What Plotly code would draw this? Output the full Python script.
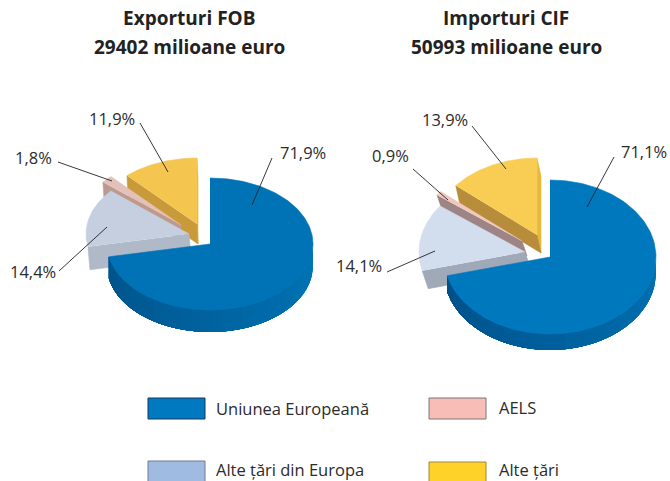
import numpy as np
import plotly.graph_objects as go

# --- data ---
categories = ["Uniunea Europeană", "AELS", "Alte țări din Europa", "Alte țări"]
export_values = [71.9, 1.8, 14.4, 11.9]
import_values = [71.1, 0.9, 14.1, 13.9]
titles = [["Exporturi FOB", "29402 milioane euro"], ["Importuri CIF", "50993 milioane euro"]]

# --- layout / style configuration (pixels of the 670x481 canvas) ---
W, H = 670, 481
FONT = "Open Sans"
TEXT = "#2b2b2b"
pies = [
    dict(values=export_values, c=(210, 244), r=(103, 66), rim_depth=22,
         offsets={1: (-29, -19), 2: (-21, -10), 3: (-13, -20)},
         depths={1: (1, 15), 2: (2, 23), 3: (1, 20)},
         top=["#0073b6", "#e4c1b8", "#c5cfe0", "#f4c650"],
         face=[None, "#bd9a90", "#afb9c8", "#c99a3a"], sliver="#e3b648",
         rim=("#00538a", "#0076b8"),
         labels=[(278, 152, 272, 158, 252, 205, "left"), (54, 157, 58, 162, 112, 181, "right"),
                 (8, 271, 59, 271, 107, 227, "left"), (112, 118, 140, 123, 168, 172, "center")],
         ),
    dict(values=import_values, c=(550, 257), r=(106, 77), rim_depth=16,
         offsets={1: (-28, -16), 2: (-25, -5), 3: (-13, -22)},
         depths={1: (5, 15), 2: (6, 18), 3: (4, 18)},
         top=["#0078be", "#f0c8bd", "#d2ddee", "#f9cc53"],
         face=[None, "#9e8585", "#a0a9b8", "#b78c3a"], sliver="#e8b83e",
         rim=("#00508a", "#0072b2"),
         labels=[(644, 151, 614, 157, 587, 207, "center"), (390, 155, 413, 169, 448, 200, "center"),
                 (359, 265, 387, 272, 435, 251, "center"), (445, 119, 472, 126, 506, 169, "center")],
         ),
]
legend_pos = [(148, 398, 214, 408), (429, 398, 497, 407), (148, 461, 214, 469), (429, 462, 497, 469)]
legend_colors = ["#0079c0", "#f7bdb6", "#a0bbe2", "#ffd229"]
legend_lines = ["#143a5c", "#7a7472", "#6f7d92", "#9a8a3a"]
title_pos = [(189, 18, 47), (506, 18, 47)]
LABEL_SIZE, TITLE_SIZE = 16.5, 19

fig = go.Figure()


def poly(x, y, color, width=0.6):
    fig.add_trace(go.Scatter(x=x, y=y, mode="lines", fill="toself", fillcolor=color,
                             line=dict(color=color, width=width), hoverinfo="skip", showlegend=False))


def mix(a, b, t):
    ca = [int(a[i:i + 2], 16) for i in (1, 3, 5)]
    cb = [int(b[i:i + 2], 16) for i in (1, 3, 5)]
    return "#%02x%02x%02x" % tuple(round(p + (q - p) * t) for p, q in zip(ca, cb))


def arc(c, r, a0, a1, n=80):
    # angles in degrees clockwise from north
    t = np.radians(np.linspace(a0, a1, n))
    return c[0] + r[0] * np.sin(t), c[1] - r[1] * np.cos(t)


for p in pies:
    v = p["values"]
    c, r = p["c"], p["r"]
    total = sum(v)
    # clockwise order from north: EU, other Europe, AELS, other countries
    order = [0, 2, 1, 3]
    spans, start = {}, 0.0
    for i in order:
        sweep = 360 * v[i] / total
        spans[i] = (start, start + sweep)
        start += sweep

    # pulled slices, back to front
    for i in [3, 1, 2]:
        a0, a1 = spans[i]
        off = p["offsets"][i]
        dep = p["depths"][i]
        apex = (c[0] + off[0], c[1] + off[1])
        ax, ay = arc(apex, r, a0, a1)
        if i == 3:  # right hand sliver of the top slice
            poly([ax[-1], ax[-1] + dep[0], apex[0] + dep[0], apex[0]],
                  [ay[-1], ay[-1] + dep[1], apex[1] + dep[1], apex[1]], p["sliver"])
        poly([ax[0], ax[0] + dep[0], apex[0] + dep[0], apex[0]],
             [ay[0], ay[0] + dep[1], apex[1] + dep[1], apex[1]], p["face"][i])
        poly(list(ax) + [apex[0]], list(ay) + [apex[1]], p["top"][i])

    # main slice: shaded rim painted in overlapping bands, then top face
    a0, a1 = spans[0]
    d = p["rim_depth"]
    edges = np.linspace(88, a1, 31)
    for k in range(len(edges) - 1):
        x, y = arc(c, r, edges[k], a1, 60)
        poly(list(x) + list(x[::-1]), list(y) + list(y[::-1] + d),
             mix(p["rim"][1], p["rim"][0], k / (len(edges) - 2)), width=0)
    x, y = arc(c, r, a0, a1, 200)
    poly(list(x) + [c[0]], list(y) + [c[1]], p["top"][0])

    # leader lines + percentage labels
    for i, (tx, ty, x0, y0, x1, y1, anchor) in enumerate(p["labels"]):
        fig.add_shape(type="line", x0=x0, y0=y0, x1=x1, y1=y1, line=dict(color="#222222", width=0.9))
        fig.add_annotation(x=tx, y=ty, text=f"{v[i]:.1f}".replace(".", ",") + "%", showarrow=False,
                           xanchor=anchor, yanchor="middle",
                           font=dict(family=FONT, size=LABEL_SIZE, color=TEXT))

for (cx, y0, y1), lines in zip(title_pos, titles):
    for y, line in zip((y0, y1), lines):
        fig.add_annotation(x=cx, y=y, text=f"<b>{line}</b>", showarrow=False, xanchor="center",
                           yanchor="middle", font=dict(family=FONT, size=TITLE_SIZE, color="#222222"))

for (x0, y0, tx, ty), name, col, lc in zip(legend_pos, categories, legend_colors, legend_lines):
    fig.add_shape(type="rect", x0=x0, x1=x0 + 57, y0=y0, y1=y0 + 21, fillcolor=col, line=dict(color=lc, width=1))
    fig.add_annotation(x=tx, y=ty, text=name, showarrow=False, xanchor="left", yanchor="middle",
                       font=dict(family=FONT, size=LABEL_SIZE, color=TEXT))

fig.update_layout(width=W, height=H, margin=dict(l=0, r=0, t=0, b=0), paper_bgcolor="white",
                  plot_bgcolor="white", showlegend=False,
                  xaxis=dict(range=[0, W], visible=False, fixedrange=True),
                  yaxis=dict(range=[H, 0], visible=False, fixedrange=True))
fig.write_html("out.html", config=dict(displayModeBar=False),
               post_script="document.body.style.margin='0';")
